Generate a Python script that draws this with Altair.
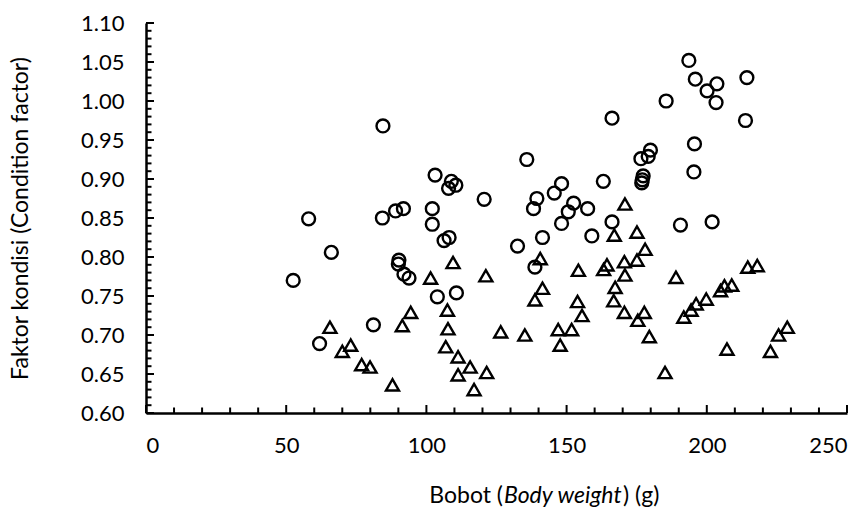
import altair as alt
import pandas as pd
import numpy as np

# Body weight (g) and condition factor, first group (open circles)
circle_weight = [52.5, 58.0, 61.9, 66.1, 81.1, 84.3, 84.5, 89.0, 90.2, 90.0,
                 91.8, 92.0, 93.8, 102.1, 102.1, 103.1, 103.9, 106.3, 108.1, 107.9,
                 108.9, 110.5, 110.7, 120.6, 132.5, 135.8, 138.2, 138.7, 139.4, 141.4,
                 145.6, 148.2, 148.2, 150.6, 152.5, 157.5, 159.0, 163.1, 166.2, 166.2,
                 176.5, 177.3, 177.0, 176.8, 179.1, 179.9, 185.5, 190.6, 193.6, 195.4,
                 195.6, 195.9, 200.1, 201.9, 203.3, 203.6, 213.8, 214.3]
circle_factor = [0.770, 0.849, 0.689, 0.806, 0.713, 0.850, 0.968, 0.859, 0.796, 0.791,
                 0.862, 0.778, 0.773, 0.862, 0.842, 0.905, 0.749, 0.821, 0.825, 0.888,
                 0.897, 0.892, 0.754, 0.874, 0.814, 0.925, 0.862, 0.787, 0.875, 0.825,
                 0.882, 0.894, 0.843, 0.858, 0.869, 0.862, 0.827, 0.897, 0.845, 0.978,
                 0.926, 0.904, 0.899, 0.895, 0.929, 0.937, 1.000, 0.841, 1.052, 0.909,
                 0.945, 1.028, 1.013, 0.845, 0.998, 1.022, 0.975, 1.030]

# Second group (open triangles)
triangle_weight = [65.6, 70.0, 73.0, 76.9, 79.9, 87.9, 91.4, 94.4, 101.5, 106.9,
                   107.5, 107.7, 109.5, 111.3, 111.3, 115.6, 117.0, 121.2, 121.5, 126.5,
                   135.1, 138.7, 140.6, 141.4, 147.0, 147.7, 151.8, 153.9, 154.2, 155.5,
                   163.2, 164.4, 166.8, 167.3, 167.0, 170.6, 170.8, 170.6, 170.8, 175.1,
                   175.1, 175.4, 177.7, 178.0, 179.5, 185.1, 189.0, 191.8, 194.4, 196.2,
                   199.8, 204.9, 206.3, 207.2, 208.9, 214.6, 218.0, 222.7, 225.6, 228.7]
triangle_factor = [0.710, 0.679, 0.687, 0.662, 0.659, 0.636, 0.712, 0.729, 0.773, 0.685,
                   0.732, 0.708, 0.793, 0.672, 0.649, 0.659, 0.630, 0.776, 0.652, 0.704,
                   0.700, 0.745, 0.798, 0.760, 0.707, 0.687, 0.707, 0.743, 0.783, 0.725,
                   0.784, 0.790, 0.744, 0.761, 0.828, 0.794, 0.777, 0.729, 0.868, 0.832,
                   0.796, 0.719, 0.729, 0.810, 0.698, 0.652, 0.774, 0.723, 0.732, 0.740,
                   0.746, 0.757, 0.763, 0.682, 0.764, 0.787, 0.789, 0.679, 0.700, 0.710]

x_labels = [0, 50, 100, 150, 200, 250]
y_labels = [0.60, 0.65, 0.70, 0.75, 0.80, 0.85, 0.90, 0.95, 1.00, 1.05, 1.10]

FONT = "Lato"
FS = 22
TFS = 23
W, H = 701, 390
X_MIN, X_MAX, Y_MIN, Y_MAX = 0, 250, 0.60, 1.10

circles = pd.DataFrame({"bobot": circle_weight, "faktor": circle_factor})
triangles = pd.DataFrame({"bobot": triangle_weight, "faktor": triangle_factor})

x_scale = alt.Scale(domain=[X_MIN, X_MAX], nice=False, zero=False)
y_scale = alt.Scale(domain=[Y_MIN, Y_MAX], nice=False, zero=False)

x_axis = alt.Axis(values=x_labels, tickCount=len(x_labels), format="d", ticks=False,
                  tickSize=0, grid=False, domainColor="black", domainWidth=2.5,
                  labelPadding=22, labelOverlap=False, labelFontSize=FS, labelFont=FONT,
                  labelColor="black", title=None)
y_axis = alt.Axis(values=y_labels, tickCount=len(y_labels), format=".2f", ticks=False,
                  tickSize=0, grid=False, domainColor="black", domainWidth=2.5,
                  labelPadding=22, labelOverlap=False, labelFontSize=FS, labelFont=FONT,
                  labelColor="black",
                  title="Faktor kondisi (Condition factor)", titleFont=FONT,
                  titleFontSize=TFS, titleFontWeight="normal", titleColor="black",
                  titlePadding=48)

pts_circle = alt.Chart(circles).mark_point(
    shape="circle", filled=False, color="black", strokeWidth=2.4, size=165, opacity=1
).encode(
    x=alt.X("bobot:Q", scale=x_scale, axis=x_axis),
    y=alt.Y("faktor:Q", scale=y_scale, axis=y_axis),
)

pts_triangle = alt.Chart(triangles).mark_point(
    shape="triangle-up", filled=False, color="black", strokeWidth=2.4, size=170, opacity=1
).encode(
    x=alt.X("bobot:Q", scale=x_scale, axis=x_axis),
    y=alt.Y("faktor:Q", scale=y_scale, axis=y_axis),
)

# inward tick marks: minor every 0.01 / 10 g, major every 0.05 / 50 g
px_x = (X_MAX - X_MIN) / W      # data units per pixel, horizontal
px_y = (Y_MAX - Y_MIN) / H      # data units per pixel, vertical
y_minor_vals = [round(v, 2) for v in np.arange(0.60, 1.1001, 0.01) if round(v * 100) % 5 != 0]
y_major_vals = y_labels
x_minor_vals = [v for v in range(0, 251, 10) if v % 50 != 0]
x_major_vals = x_labels


def y_ticks(vals, length):
    return alt.Chart(pd.DataFrame({"faktor": vals})).mark_rule(
        color="black", strokeWidth=2
    ).encode(
        y=alt.Y("faktor:Q", scale=y_scale, axis=y_axis),
        x=alt.datum(X_MIN),
        x2=alt.datum(X_MIN + length * px_x),
    )


def x_ticks(vals, length):
    return alt.Chart(pd.DataFrame({"bobot": vals})).mark_rule(
        color="black", strokeWidth=2
    ).encode(
        x=alt.X("bobot:Q", scale=x_scale, axis=x_axis),
        y=alt.datum(Y_MIN),
        y2=alt.datum(Y_MIN + length * px_y),
    )


# x-axis title with the English gloss in italics
one = alt.Data(values=[{}])
TX, TY = 357, 480
t1 = alt.Chart(one).mark_text(font=FONT, fontSize=TFS, align="right", baseline="alphabetic",
                              color="black").encode(
    text=alt.value("Bobot ("), x=alt.value(TX), y=alt.value(TY))
t2 = alt.Chart(one).mark_text(font=FONT, fontSize=TFS, fontStyle="italic", align="left",
                              baseline="alphabetic", color="black").encode(
    text=alt.value("Body weight"), x=alt.value(TX + 1), y=alt.value(TY))
t3 = alt.Chart(one).mark_text(font=FONT, fontSize=TFS, align="left", baseline="alphabetic",
                              color="black").encode(
    text=alt.value(") (g)"), x=alt.value(TX + 120), y=alt.value(TY))

chart = alt.layer(
    pts_circle, pts_triangle,
    y_ticks(y_minor_vals, 5.5), y_ticks(y_major_vals, 8),
    x_ticks(x_minor_vals, 5.5), x_ticks(x_major_vals, 8),
    t1, t2, t3,
).properties(
    width=W, height=H,
    background="white",
    autosize=alt.AutoSizeParams(type="none"),
    padding={"left": 146, "top": 23, "right": 19, "bottom": 97},
).configure_view(stroke=None).configure_axis(labelOverlap=False)

chart.save("out.html", embed_options={"renderer": "svg", "actions": False})
